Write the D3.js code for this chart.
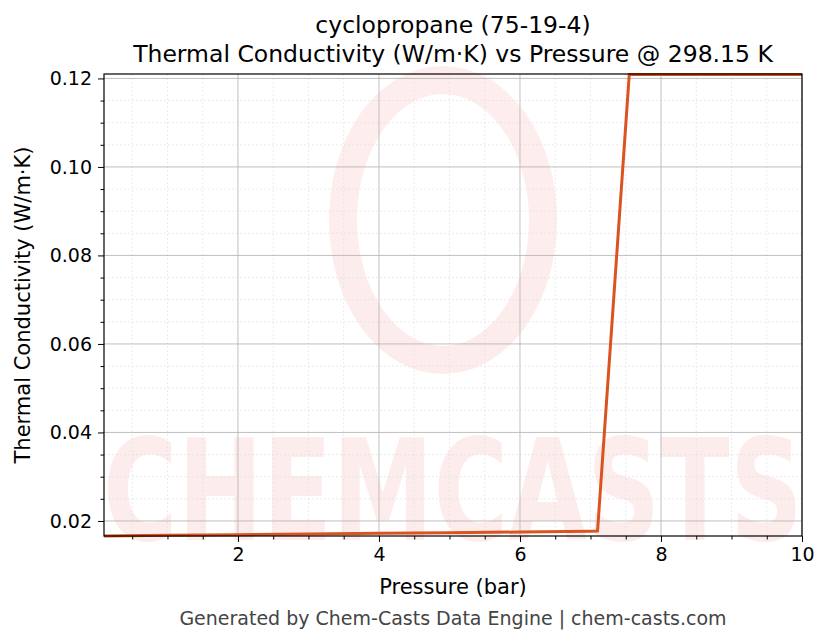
<!DOCTYPE html>
<html><head><meta charset="utf-8">
<script src="https://cdn.jsdelivr.net/npm/d3@7/dist/d3.min.js"></script>
<style>body{margin:0;background:#fff}text{font-family:"DejaVu Sans",sans-serif}</style>
</head><body><svg id="c" width="830" height="644"></svg>
<script>
const pressure = [0.1, 1, 2, 3, 4, 5, 6, 7, 7.1, 7.55, 8, 9, 10];
const conductivity = [0.0166, 0.01675, 0.0169, 0.01705, 0.0172, 0.01735, 0.0175, 0.01765, 0.0177, 0.1209, 0.1209, 0.1209, 0.1209];
const xTicks = [2, 4, 6, 8, 10];
const yTicks = [0.02, 0.04, 0.06, 0.08, 0.10, 0.12];
const title1 = "cyclopropane (75-19-4)";
const title2 = "Thermal Conductivity (W/m·K) vs Pressure @ 298.15 K";

const svg = d3.select("#c");
const L=104,R=802,T=74,B=536;
const x = d3.scaleLinear().domain([0.1,10]).range([L,R]);
const y = d3.scaleLinear().domain([0.0166,0.1210]).range([B,T]);

// watermark
const wm = svg.append("g").attr("opacity",0.09);
wm.append("ellipse").attr("cx",443).attr("cy",220).attr("rx",100).attr("ry",140)
  .attr("fill","none").attr("stroke","#f03c3c").attr("stroke-width",28);
wm.append("text").attr("x",453).attr("y",540).attr("text-anchor","middle")
  .attr("font-size",140).attr("font-weight","bold").attr("fill","#f03c3c").attr("textLength",700).attr("lengthAdjust","spacingAndGlyphs")
  .text("CHEMCASTS");

// minor grid
const xMinor = d3.range(0.5,10.01,0.5).filter(v=>!xTicks.includes(v));
const yMinor = d3.range(0.02,0.1211,0.005).filter(v=>Math.abs(Math.round(v*100)/100-v)>1e-6 || Math.round(v*100)%2===1);
const g = svg.append("g");
xMinor.forEach(v=>g.append("line").attr("x1",x(v)).attr("x2",x(v)).attr("y1",T).attr("y2",B).attr("stroke","#dddddd").attr("stroke-width",0.6).attr("stroke-dasharray","2,2"));
yMinor.forEach(v=>g.append("line").attr("y1",y(v)).attr("y2",y(v)).attr("x1",L).attr("x2",R).attr("stroke","#dddddd").attr("stroke-width",0.6).attr("stroke-dasharray","2,2"));
xTicks.forEach(v=>g.append("line").attr("x1",x(v)).attr("x2",x(v)).attr("y1",T).attr("y2",B).attr("stroke","#b0b0b0").attr("stroke-width",0.8));
yTicks.forEach(v=>g.append("line").attr("y1",y(v)).attr("y2",y(v)).attr("x1",L).attr("x2",R).attr("stroke","#b0b0b0").attr("stroke-width",0.8));

// line
svg.append("path").datum(pressure.map((p,i)=>[p,conductivity[i]]))
  .attr("d",d3.line().x(d=>x(d[0])).y(d=>y(d[1])))
  .attr("fill","none").attr("stroke","#d9541e").attr("stroke-width",3);

// axes
const xa = svg.append("g").attr("transform",`translate(0,${B})`)
  .call(d3.axisBottom(x).tickValues(xTicks).tickFormat(d3.format("d")).tickSize(6).tickPadding(6));
const xam = svg.append("g").attr("transform",`translate(0,${B})`)
  .call(d3.axisBottom(x).tickValues(xMinor).tickFormat("").tickSize(3.5));
const ya = svg.append("g").attr("transform",`translate(${L},0)`)
  .call(d3.axisLeft(y).tickValues(yTicks).tickFormat(d3.format(".2f")).tickSize(6).tickPadding(6));
const yam = svg.append("g").attr("transform",`translate(${L},0)`)
  .call(d3.axisLeft(y).tickValues(yMinor).tickFormat("").tickSize(3.5));
[xa,xam,ya,yam].forEach(a=>{a.select(".domain").remove();a.selectAll("text").attr("font-size",19).attr("fill","#000").attr("font-family","DejaVu Sans");a.selectAll("line").attr("stroke","#000");});
svg.append("rect").attr("x",L).attr("y",T).attr("width",R-L).attr("height",B-T).attr("fill","none").attr("stroke","#000").attr("stroke-width",1.2);

svg.append("text").attr("x",453).attr("y",33).attr("text-anchor","middle").attr("font-size",23.5).text(title1);
svg.append("text").attr("x",453).attr("y",62).attr("text-anchor","middle").attr("font-size",23.5).text(title2);
svg.append("text").attr("x",453).attr("y",594).attr("text-anchor","middle").attr("font-size",21).text("Pressure (bar)");
svg.append("text").attr("transform","translate(30,305) rotate(-90)").attr("text-anchor","middle").attr("font-size",21).text("Thermal Conductivity (W/m·K)");
svg.append("text").attr("x",453).attr("y",625).attr("text-anchor","middle").attr("font-size",19).attr("fill","#444").text("Generated by Chem-Casts Data Engine | chem-casts.com");
</script></body></html>
